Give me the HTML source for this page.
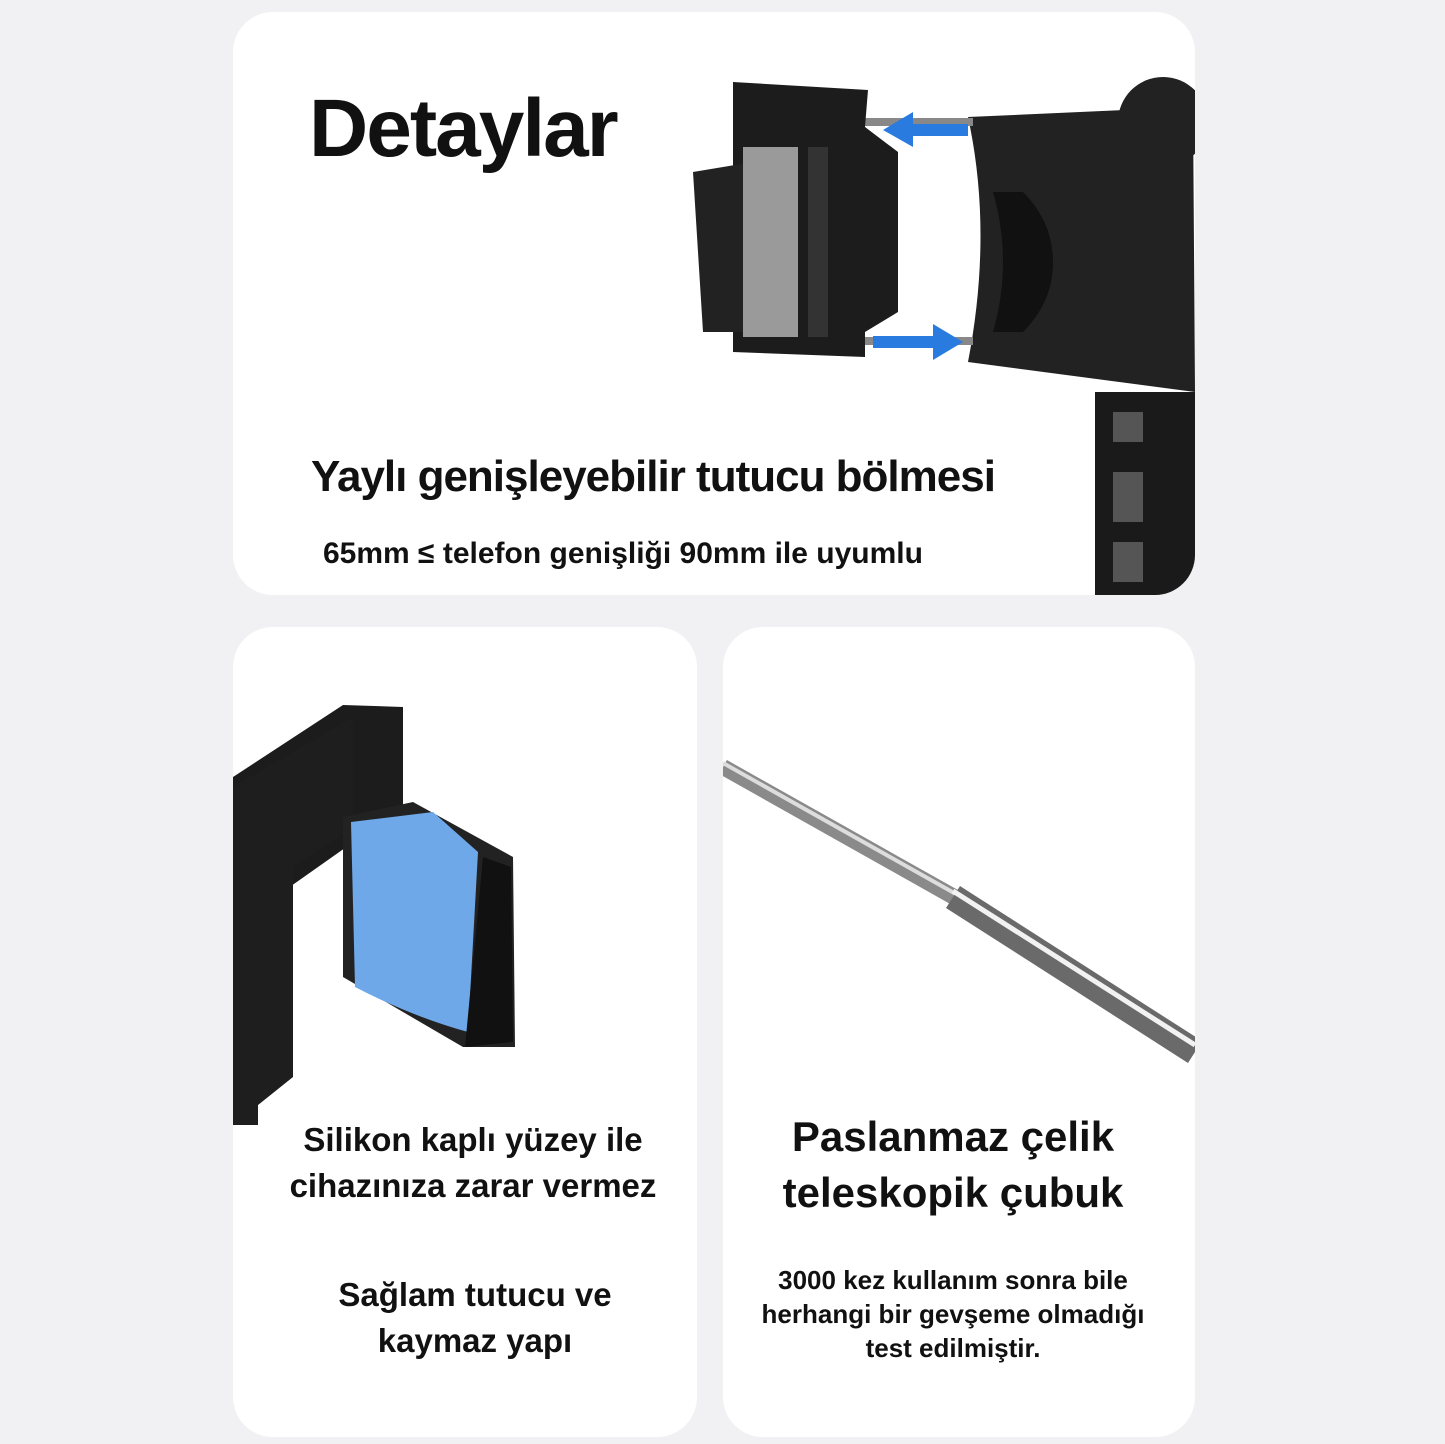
<!DOCTYPE html>
<html><head><meta charset="utf-8"><style>
body{margin:0;width:1445px;height:1444px;background:#f1f1f3;position:relative;overflow:hidden;font-family:"Liberation Sans",sans-serif;color:#111}
.card{position:absolute;background:#fff;border-radius:40px;overflow:hidden}
.t{position:absolute;font-weight:bold;white-space:nowrap;text-align:center}
</style></head><body>
<div class="card" style="left:233px;top:12px;width:962px;height:583px">
<svg width="962" height="583" style="position:absolute;left:0;top:0">
 <rect x="862" y="380" width="100" height="203" fill="#1a1a1a"/>
 <rect x="880" y="400" width="30" height="30" fill="#555"/><rect x="880" y="460" width="30" height="50" fill="#555"/><rect x="880" y="530" width="30" height="40" fill="#555"/>
 <circle cx="930" cy="110" r="45" fill="#222"/>
 <path d="M735 105 L960 95 L962 380 L735 350 Q760 220 735 105Z" fill="#222"/>
 <path d="M790 180 Q820 210 820 250 Q820 290 790 320 L760 320 Q780 250 760 180Z" fill="#111"/>
 <rect x="600" y="106" width="140" height="8" fill="#888"/><rect x="600" y="325" width="140" height="8" fill="#888"/>
 <polygon points="650,118 680,100 680,135" fill="#2a7be0"/><rect x="675" y="112" width="60" height="12" fill="#2a7be0"/>
 <polygon points="730,330 700,312 700,348" fill="#2a7be0"/><rect x="640" y="324" width="65" height="12" fill="#2a7be0"/>
 <path d="M500 70 L635 78 L632 115 L665 140 L665 300 L632 320 L632 345 L500 340Z" fill="#1c1c1c"/>
 <path d="M460 160 L520 150 L530 320 L470 320Z" fill="#222"/>
 <rect x="510" y="135" width="55" height="190" fill="#9a9a9a"/>
 <rect x="575" y="135" width="20" height="190" fill="#333"/>
</svg>
<div class="t" style="left:76px;top:70px;font-size:82px;letter-spacing:-2px">Detaylar</div>
<div class="t" style="left:36px;top:440px;width:768px;font-size:44px;letter-spacing:-1px">Yaylı genişleyebilir tutucu bölmesi</div>
<div class="t" style="left:90px;top:525px;font-size:30px">65mm ≤ telefon genişliği 90mm ile uyumlu</div>
</div>
<div class="card" style="left:233px;top:627px;width:464px;height:810px">
<svg width="464" height="810" style="position:absolute;left:0;top:0">
 <path d="M0 150 L110 78 L170 80 L170 180 L0 300Z" fill="#1c1c1c"/>
 <path d="M0 160 L120 90 L120 200 L60 240 L60 450 L0 498Z" fill="#1e1e1e"/>
 <rect x="0" y="160" width="25" height="338" fill="#1e1e1e"/>
 <path d="M110 190 L180 175 L280 230 L282 420 L230 420 L110 350Z" fill="#222"/>
 <path d="M118 195 L200 185 L245 225 L235 405 Q180 390 122 360Z" fill="#6fa8e8"/>
 <path d="M250 230 L278 240 L280 415 L232 420Z" fill="#111"/>
</svg>
<div class="t" style="left:0;top:490px;width:480px;font-size:33px;line-height:46px">Silikon kaplı yüzey ile<br>cihazınıza zarar vermez</div>
<div class="t" style="left:10px;top:645px;width:464px;font-size:33px;line-height:46px">Sağlam tutucu ve<br>kaymaz yapı</div>
</div>
<div class="card" style="left:723px;top:627px;width:472px;height:810px">
<svg width="472" height="810" style="position:absolute;left:0;top:0">
 <line x1="0" y1="140" x2="240" y2="275" stroke="#8a8a8a" stroke-width="16"/>
 <line x1="0" y1="136" x2="240" y2="271" stroke="#ddd" stroke-width="4"/>
 <line x1="230" y1="270" x2="472" y2="425" stroke="#6a6a6a" stroke-width="26"/>
 <line x1="230" y1="264" x2="472" y2="418" stroke="#f2f2f2" stroke-width="5"/>
</svg>
<div class="t" style="left:0;top:482px;width:460px;font-size:42px;line-height:56px">Paslanmaz çelik<br>teleskopik çubuk</div>
<div class="t" style="left:0;top:636px;width:460px;font-size:26px;line-height:34px">3000 kez kullanım sonra bile<br>herhangi bir gevşeme olmadığı<br>test edilmiştir.</div>
</div>
</body></html>
